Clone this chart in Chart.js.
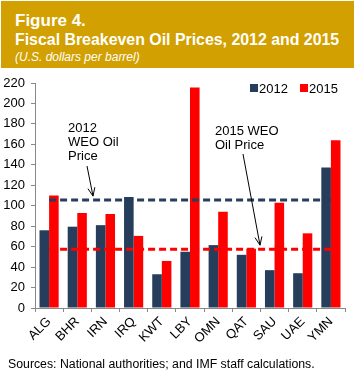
<!DOCTYPE html>
<html>
<head>
<meta charset="utf-8">
<script src="https://cdn.jsdelivr.net/npm/chart.js@4/dist/chart.umd.min.js"></script>
<style>
  html, body { margin: 0; padding: 0; background: #fff; width: 355px; height: 376px; overflow: hidden; }
  body { position: relative; font-family: "Liberation Sans", Arial, sans-serif; }
  #hdr { position: absolute; left: 1px; top: 1px; width: 353px; height: 67px; background: #D2A000; color: #fff; }
  #hdr .t1 { position: absolute; left: 14px; top: 11px; font-weight: bold; font-size: 17px; line-height: 18px; }
  #hdr .t2 { position: absolute; left: 14px; top: 30px; font-weight: bold; font-size: 15.9px; line-height: 18px; white-space: nowrap; }
  #hdr .t3 { position: absolute; left: 14px; top: 49px; font-style: italic; font-size: 12px; line-height: 14px; }
  #wrap { position: absolute; left: 0; top: 68px; width: 355px; height: 290px; }
  #src { position: absolute; left: 8px; top: 357px; font-size: 12.3px; color: #000; white-space: nowrap; }
</style>
</head>
<body>
<div id="hdr">
  <div class="t1">Figure 4.</div>
  <div class="t2">Fiscal Breakeven Oil Prices, 2012 and 2015</div>
  <div class="t3">(U.S. dollars per barrel)</div>
</div>
<div id="wrap"><canvas id="c" width="355" height="290"></canvas></div>
<div id="src">Sources: National authorities; and IMF staff calculations.</div>
<script>
const categories = ["ALG","BHR","IRN","IRQ","KWT","LBY","OMN","QAT","SAU","UAE","YMN"];
const values2012 = [76, 79.5, 81, 108.5, 33, 55, 61.5, 52, 37, 34, 137.5];
const values2015 = [110, 93, 92, 70.5, 46, 215.5, 94, 58, 103, 73, 164];
const weo2012 = 105.5;
const weo2015 = 57.5;
const yTicks = [0,20,40,60,80,100,120,140,160,180,200,220];

const navy = "#263D5C";
const red = "#FF0000";

const annotations = {
  id: "annotations",
  afterDatasetsDraw(chart) {
    const ctx = chart.ctx;
    ctx.save();
    ctx.font = "13px 'Liberation Sans', Arial, sans-serif";
    ctx.fillStyle = "#000";
    // Legend (from datasets)
    const legendItems = chart.data.datasets.filter(d => d.type !== "line");
    let lx = 250;
    const ly = 20;
    legendItems.forEach(d => {
      ctx.fillStyle = d.backgroundColor;
      ctx.fillRect(lx, ly - 4, 8, 8);
      ctx.fillStyle = "#000";
      ctx.textBaseline = "middle";
      ctx.fillText(d.label, lx + 9, ly + 1);
      lx += 50;
    });
    const y = chart.scales.y;
    ctx.textBaseline = "alphabetic";
    ctx.fillText("2012", 68, 64);
    ctx.fillText("WEO Oil", 68, 78);
    ctx.fillText("Price", 68, 92);
    ctx.fillText("2015 WEO", 215, 67);
    ctx.fillText("Oil Price", 215, 81);
    function arrow(x1, y1, x2, y2) {
      ctx.strokeStyle = "#000";
      ctx.lineWidth = 1;
      ctx.beginPath();
      ctx.moveTo(x1, y1); ctx.lineTo(x2, y2); ctx.stroke();
      const a = Math.atan2(y2 - y1, x2 - x1);
      const L = 9;
      ctx.beginPath();
      ctx.moveTo(x2 - L * Math.cos(a - 0.4), y2 - L * Math.sin(a - 0.4));
      ctx.lineTo(x2, y2);
      ctx.lineTo(x2 - L * Math.cos(a + 0.4), y2 - L * Math.sin(a + 0.4));
      ctx.stroke();
    }
    arrow(87, 98, 93, y.getPixelForValue(weo2012) - 4);
    arrow(243, 86, 260, y.getPixelForValue(weo2015) - 4);
    ctx.restore();
  }
};

new Chart(document.getElementById("c"), {
  type: "bar",
  data: {
    labels: categories,
    datasets: [
      { label: "2012", data: values2012, backgroundColor: navy, order: 2 },
      { label: "2015", data: values2015, backgroundColor: red, order: 2 },
      { type: "line", label: "2012 WEO", data: categories.map(() => weo2012), borderColor: navy, borderWidth: 3, borderDash: [7, 4], pointRadius: 0, order: 0 },
      { type: "line", label: "2015 WEO", data: categories.map(() => weo2015), borderColor: red, borderWidth: 3, borderDash: [7, 4], pointRadius: 0, order: 0 }
    ]
  },
  options: {
    responsive: false,
    animation: false,
    devicePixelRatio: 1,
    layout: { padding: { top: 15, right: 10, left: 0, bottom: 0 } },
    datasets: { bar: { categoryPercentage: 0.68, barPercentage: 1.0 } },
    plugins: { legend: { display: false }, tooltip: { enabled: false }, title: { display: false } },
    scales: {
      x: {
        grid: { display: true, drawOnChartArea: false, drawTicks: true, tickLength: 4, color: "#888", offset: true },
        border: { color: "#888" },
        ticks: { color: "#000", font: { family: "'Liberation Sans', Arial, sans-serif", size: 13 }, minRotation: 45, maxRotation: 45, padding: 2 },
        afterFit(s) { s.height = 50; }
      },
      y: {
        min: 0, max: 220,
        afterBuildTicks(s) { s.ticks = yTicks.map(v => ({ value: v })); },
        grid: { display: true, drawOnChartArea: false, drawTicks: true, tickLength: 4, color: "#888" },
        border: { color: "#888" },
        ticks: { color: "#000", font: { family: "'Liberation Sans', Arial, sans-serif", size: 13 }, padding: 6 },
        afterFit(s) { s.width = 35; }
      }
    }
  },
  plugins: [annotations]
});
</script>
</body>
</html>
